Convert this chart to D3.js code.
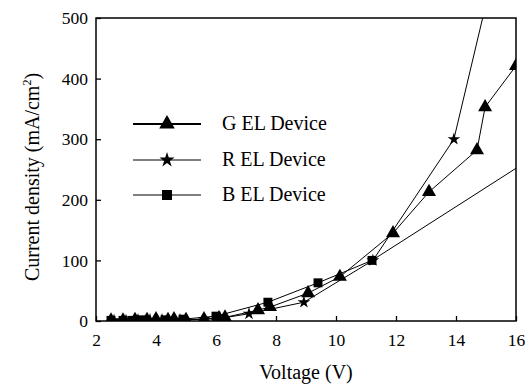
<!DOCTYPE html>
<html>
<head>
<meta charset="utf-8">
<script src="https://cdn.jsdelivr.net/npm/d3@7"></script>
<style>
  body { margin: 0; background: #fff; }
  text { font-family: "Liberation Serif", serif; }
</style>
</head>
<body>
<div id="chart"></div>
<script>
// voltage (V), current density (mA/cm2)
const gData = [[2.5,1],[2.9,1],[3.3,2],[3.7,2],[4.0,3],[4.4,2],[4.6,3],[5.0,2],[5.6,3],[6.1,5],[6.3,6],
  [7.4,18],[7.8,23],[9.07,46],[10.13,73],[11.9,145],[13.1,213],[14.7,282],[14.97,353],[16.0,421]];
const rData = [[2.6,1],[3.0,1],[3.4,2],[3.8,2],[4.2,2],[4.8,2],[5.6,3],[6.1,4],
  [7.1,12],[8.93,31],[11.23,100],[13.93,300],[15.2,565]];
const bData = [[2.5,1],[2.9,1],[3.2,1],[3.5,2],[4.3,2],[4.9,3],[6.0,8],
  [7.73,31],[9.4,63],[11.2,100],[16.0,252]];

const xTicks = [2, 4, 6, 8, 10, 12, 14, 16];
const yTicks = [0, 100, 200, 300, 400, 500];
const legendNames = ["G EL Device", "R EL Device", "B EL Device"];

const W = 525, H = 385;
const margin = {top: 18, right: 9, bottom: 64, left: 96};
const FONT = "Liberation Serif";

const svg = d3.select("#chart").append("svg")
  .attr("width", W).attr("height", H);

const x = d3.scaleLinear().domain([2, 16]).range([margin.left, W - margin.right]);
const y = d3.scaleLinear().domain([0, 500]).range([H - margin.bottom, margin.top]);

svg.append("clipPath").attr("id", "plot")
  .append("rect")
  .attr("x", margin.left).attr("y", margin.top)
  .attr("width", x(16) - x(2)).attr("height", y(0) - y(500));

const series = [
  {data: gData, shape: d3.symbolTriangle, size: 85, markLast: true},
  {data: rData, shape: d3.symbolStar, size: 50, markLast: false},
  {data: bData, shape: d3.symbolSquare, size: 80, markLast: false}
];

const line = d3.line().x(d => x(d[0])).y(d => y(d[1]));
const g = svg.append("g").attr("clip-path", "url(#plot)");

series.forEach(s => {
  g.append("path").datum(s.data)
    .attr("d", line)
    .attr("fill", "none").attr("stroke", "#000").attr("stroke-width", 1);
  const pts = s.markLast ? s.data : s.data.slice(0, -1);
  g.selectAll(null).data(pts).enter().append("path")
    .attr("d", d3.symbol().type(s.shape).size(s.size))
    .attr("transform", d => `translate(${x(d[0])},${y(d[1])})`)
    .attr("fill", "#000");
});

// axes, ticks inward
const xAxis = svg.append("g")
  .attr("transform", `translate(0,${y(0)})`)
  .call(d3.axisBottom(x).tickValues(xTicks).tickSizeInner(-5).tickSizeOuter(0).tickPadding(13));
const yAxis = svg.append("g")
  .attr("transform", `translate(${x(2)},0)`)
  .call(d3.axisLeft(y).tickValues(yTicks).tickSizeInner(-5).tickSizeOuter(0).tickPadding(8));
[xAxis, yAxis].forEach(a => {
  a.attr("font-family", FONT).attr("font-size", 17.5);
  a.selectAll("text").attr("fill", "#000");
  a.selectAll("line").attr("stroke-width", 1.3);
  a.select(".domain").remove();
});

// frame
svg.append("rect")
  .attr("x", x(2)).attr("y", y(500))
  .attr("width", x(16) - x(2)).attr("height", y(0) - y(500))
  .attr("fill", "none").attr("stroke", "#000").attr("stroke-width", 1.5);

// axis titles
svg.append("text")
  .attr("x", 306).attr("y", 379)
  .attr("text-anchor", "middle")
  .attr("font-family", FONT).attr("font-size", 20).attr("fill", "#000")
  .text("Voltage (V)");

const yt = svg.append("text")
  .attr("transform", `translate(39,177) rotate(-90)`)
  .attr("text-anchor", "middle")
  .attr("font-family", FONT).attr("font-size", 20).attr("fill", "#000");
yt.append("tspan").text("Current density (mA/cm");
yt.append("tspan").attr("font-size", 12).attr("dy", -8).text("2");
yt.append("tspan").attr("dy", 8).text(")");

// legend
const leg = svg.append("g");
legendNames.forEach((name, i) => {
  const ly = [124, 160, 195][i];
  const s = series[i];
  leg.append("line")
    .attr("x1", 133).attr("x2", 201).attr("y1", ly).attr("y2", ly)
    .attr("stroke", "#000").attr("stroke-width", i === 0 ? 2 : 1.2);
  leg.append("path")
    .attr("d", d3.symbol().type(s.shape).size(s.size + 20))
    .attr("transform", `translate(167,${ly})`)
    .attr("fill", "#000");
  leg.append("text")
    .attr("x", 222).attr("y", ly + 6)
    .attr("font-family", FONT).attr("font-size", 20).attr("fill", "#000")
    .text(name);
});
</script>
</body>
</html>
